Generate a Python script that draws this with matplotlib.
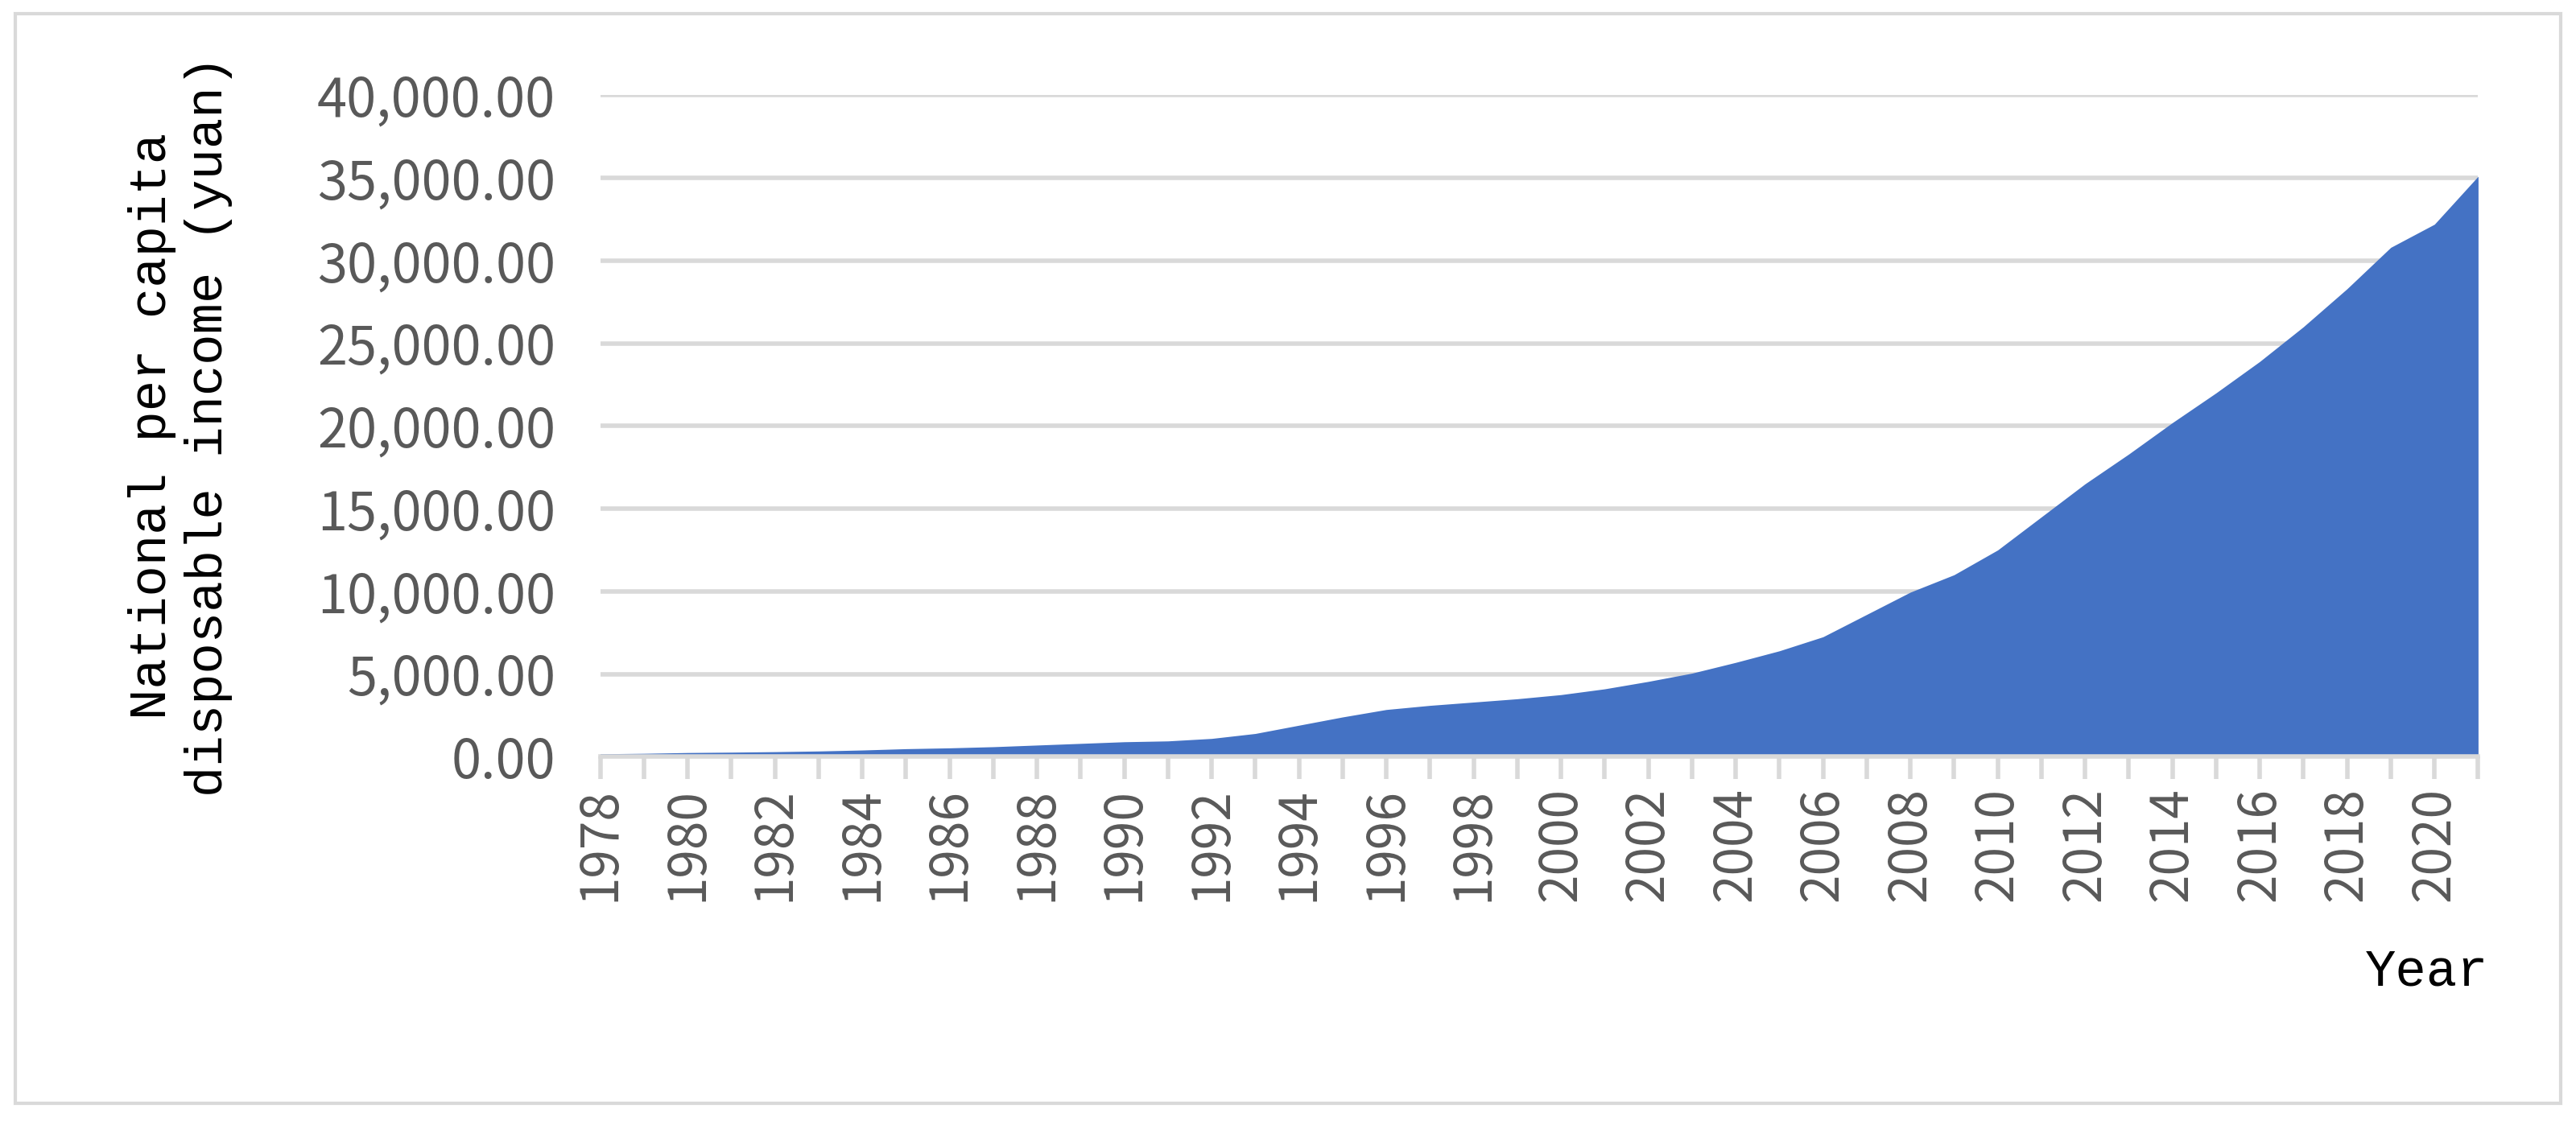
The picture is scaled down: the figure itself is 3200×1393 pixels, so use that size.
import numpy as np
import matplotlib.pyplot as plt
from matplotlib.patches import Rectangle

# Data
years = list(range(1978, 2022))
income = [171, 200, 247, 270, 300, 340, 400, 480, 530, 600,
          700, 800, 900, 950, 1100, 1400, 1900, 2400, 2850, 3100,
          3300, 3500, 3750, 4100, 4550, 5050, 5700, 6400, 7250, 8600,
          9950, 11000, 12500, 14500, 16500, 18300, 20200, 22000, 23900, 26000,
          28300, 30800, 32200, 35100]
ylabel = "National per capita\ndisposable income (yuan)"
xlabel = "Year"

fig = plt.figure(figsize=(16, 6.965), dpi=200)
fig.patches.append(Rectangle((0.006, 0.016), 0.988, 0.972, transform=fig.transFigure,
                             fill=False, edgecolor="#d9d9d9", linewidth=1.5))
ax = fig.add_axes([0.233, 0.325, 0.729, 0.59])

ax.fill_between(years, income, 0, color="#4472c4", linewidth=0)
ax.set_xlim(1978, 2021)
ax.set_ylim(0, 40000)
ax.set_yticks(np.arange(0, 40001, 5000))
ax.set_yticklabels([f"{v:,.2f}" for v in np.arange(0, 40001, 5000)])
ax.set_xticks(years)
ax.set_xticklabels([str(y) if y % 2 == 0 else "" for y in years], rotation=90)
ax.grid(axis="y", color="#d9d9d9", linewidth=2)
ax.set_axisbelow(True)
for s in ["top", "right", "left"]:
    ax.spines[s].set_visible(False)
ax.spines["bottom"].set_color("#d9d9d9")
ax.spines["bottom"].set_linewidth(2)
ax.tick_params(axis="y", length=0, labelsize=24, labelcolor="#595959", pad=20)
ax.tick_params(axis="x", length=10, width=2, color="#d9d9d9", labelsize=23,
               labelcolor="#595959")
for t in ax.get_xticklabels() + ax.get_yticklabels():
    t.set_fontfamily(["Noto Sans CJK SC", "DejaVu Sans"])

fig.text(0.07, 0.62, ylabel, rotation=90, ha="center", va="center",
         fontsize=23, family="Liberation Mono", linespacing=1.2)
fig.text(0.942, 0.133, xlabel, ha="center", va="center",
         fontsize=23, family="Liberation Mono")

fig.savefig("out.png")
